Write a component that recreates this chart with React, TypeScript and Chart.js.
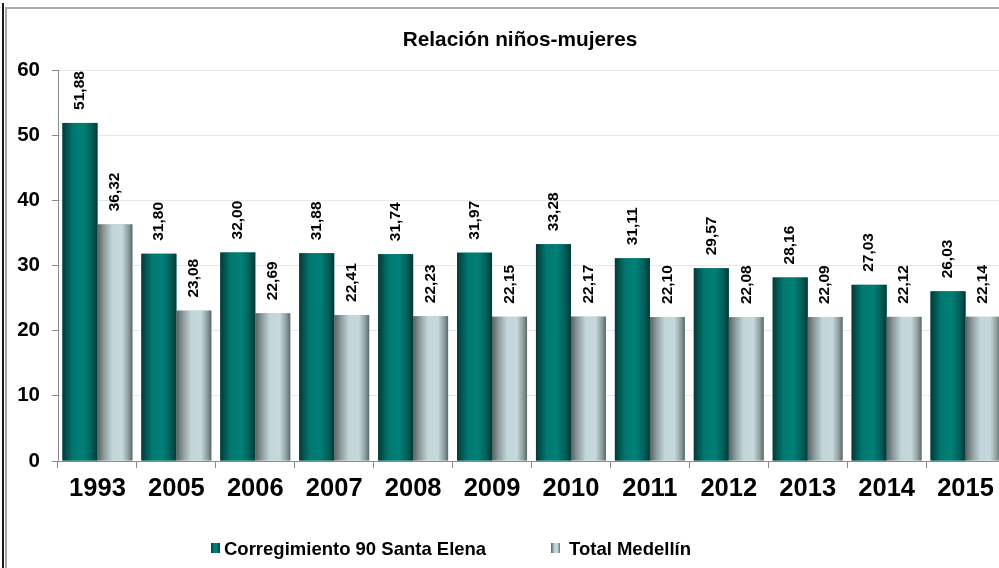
import React, { useEffect, useRef } from 'react';
import { Chart, registerables } from 'chart.js';

Chart.register(...registerables);

const categories = ['1993', '2005', '2006', '2007', '2008', '2009', '2010', '2011', '2012', '2013', '2014', '2015'];
const santaElena = [51.88, 31.8, 32.0, 31.88, 31.74, 31.97, 33.28, 31.11, 29.57, 28.16, 27.03, 26.03];
const medellin = [36.32, 23.08, 22.69, 22.41, 22.23, 22.15, 22.17, 22.1, 22.08, 22.09, 22.12, 22.14];
const seriesNames = ['Corregimiento 90 Santa Elena', 'Total Medellín'];
const titleText = 'Relación niños-mujeres';
const yMin = 0;
const yMax = 60;
const yStep = 10;

const FONT = 'Arial, "Liberation Sans", Helvetica, sans-serif';

const tealStops: [number, string][] = [
  [0, '#0c3534'],
  [0.12, '#03524e'],
  [0.3, '#007870'],
  [0.6, '#008078'],
  [0.82, '#00615b'],
  [1, '#003a37'],
];
const greyStops: [number, string][] = [
  [0, '#566161'],
  [0.18, '#8a9899'],
  [0.42, '#c2d5d9'],
  [0.7, '#c5d8db'],
  [0.88, '#90a0a1'],
  [1, '#5c6868'],
];

function makeGradient(ctx: CanvasRenderingContext2D, x0: number, x1: number, stops: [number, string][]) {
  const g = ctx.createLinearGradient(x0, 0, x1, 0);
  stops.forEach(([o, c]) => g.addColorStop(o, c));
  return g;
}

const fmt = (v: number) => v.toFixed(2).replace('.', ',');

const customPlugin = {
  id: 'customDraw',
  afterDatasetsDraw(chart: any) {
    const ctx: CanvasRenderingContext2D = chart.ctx;
    ctx.save();
    chart.data.datasets.forEach((ds: any, di: number) => {
      const meta = chart.getDatasetMeta(di);
      const stops = di === 0 ? tealStops : greyStops;
      meta.data.forEach((el: any) => {
        const { x, y, base, width } = el.getProps(['x', 'y', 'base', 'width'], true);
        const left = x - width / 2;
        ctx.fillStyle = makeGradient(ctx, left, left + width, stops);
        ctx.fillRect(left, y, width, base - y);
      });
    });
    // data labels
    ctx.fillStyle = '#000';
    ctx.font = `bold 15.5px ${FONT}`;
    ctx.textAlign = 'left';
    ctx.textBaseline = 'middle';
    chart.data.datasets.forEach((ds: any, di: number) => {
      const meta = chart.getDatasetMeta(di);
      meta.data.forEach((el: any, i: number) => {
        const { x, y } = el.getProps(['x', 'y'], true);
        ctx.save();
        ctx.translate(x, y - 13);
        ctx.rotate(-Math.PI / 2);
        ctx.fillText(fmt(ds.data[i]), 0, 0);
        ctx.restore();
      });
    });
    ctx.restore();
  },
  afterDraw(chart: any) {
    const ctx: CanvasRenderingContext2D = chart.ctx;
    ctx.save();
    // title
    ctx.fillStyle = '#000';
    ctx.font = `bold 20.8px ${FONT}`;
    ctx.textAlign = 'center';
    ctx.textBaseline = 'alphabetic';
    ctx.fillText(titleText, chart.width / 2, 46);
    // legend
    ctx.font = `bold 18.5px ${FONT}`;
    ctx.textAlign = 'left';
    const items = [
      { sx: 211, tx: 224, stops: tealStops },
      { sx: 551, tx: 569, stops: greyStops },
    ];
    items.forEach((it, k) => {
      ctx.fillStyle = makeGradient(ctx, it.sx, it.sx + 9, it.stops);
      ctx.fillRect(it.sx, 543, 9, 10);
      ctx.fillStyle = '#000';
      ctx.fillText(seriesNames[k], it.tx, 555);
    });
    ctx.restore();
  },
};

export default function App() {
  const canvasRef = useRef<HTMLCanvasElement | null>(null);

  useEffect(() => {
    if (!canvasRef.current) return;
    const chart = new Chart(canvasRef.current, {
      type: 'bar',
      data: {
        labels: categories,
        datasets: [
          { label: seriesNames[0], data: santaElena, backgroundColor: '#007870', borderWidth: 0 },
          { label: seriesNames[1], data: medellin, backgroundColor: '#c2d5d9', borderWidth: 0 },
        ],
      },
      options: {
        responsive: false,
        animation: false,
        devicePixelRatio: 1,
        datasets: { bar: { categoryPercentage: 0.887, barPercentage: 1.0 } },
        layout: { padding: { top: 70, left: 0, right: 35, bottom: 0 } },
        plugins: {
          legend: { display: false },
          title: { display: false },
          tooltip: { enabled: false },
        },
        scales: {
          x: {
            offset: true,
            grid: {
              offset: true,
              drawOnChartArea: false,
              drawTicks: true,
              tickLength: 7,
              tickColor: '#8a8a8a',
            },
            border: { display: true, color: '#8a8a8a', width: 1 },
            ticks: {
              color: '#000',
              font: { family: FONT, size: 25.5, weight: 'bold' },
              padding: 6,
              maxRotation: 0,
              autoSkip: false,
            },
            afterFit(scale: any) {
              scale.height = 107;
            },
          },
          y: {
            min: yMin,
            max: yMax,
            grid: {
              color: '#dfeaea',
              drawTicks: true,
              tickLength: 6,
              tickColor: '#8a8a8a',
            },
            border: { display: true, color: '#8a8a8a', width: 1 },
            ticks: {
              stepSize: yStep,
              color: '#000',
              font: { family: FONT, size: 20.5, weight: 'bold' },
              padding: 12,
            },
            afterFit(scale: any) {
              scale.width = 58;
            },
          },
        },
      },
      plugins: [customPlugin],
    } as any);
    return () => chart.destroy();
  }, []);

  return (
    <div style={{ position: 'fixed', left: 0, top: 0, width: 999, height: 568, overflow: 'hidden', background: '#fff' }}>
      <canvas ref={canvasRef} width={1040} height={568} style={{ position: 'absolute', left: 0, top: 0, width: 1040, height: 568 }} />
      <div style={{ position: 'absolute', left: 5, top: 7, width: 1100, height: 700, border: '2px solid #a8a8a8', boxSizing: 'border-box', pointerEvents: 'none' }} />
      <div style={{ position: 'absolute', left: 2, top: 3, width: 2, height: 600, background: '#1a1a1a', pointerEvents: 'none' }} />
    </div>
  );
}
